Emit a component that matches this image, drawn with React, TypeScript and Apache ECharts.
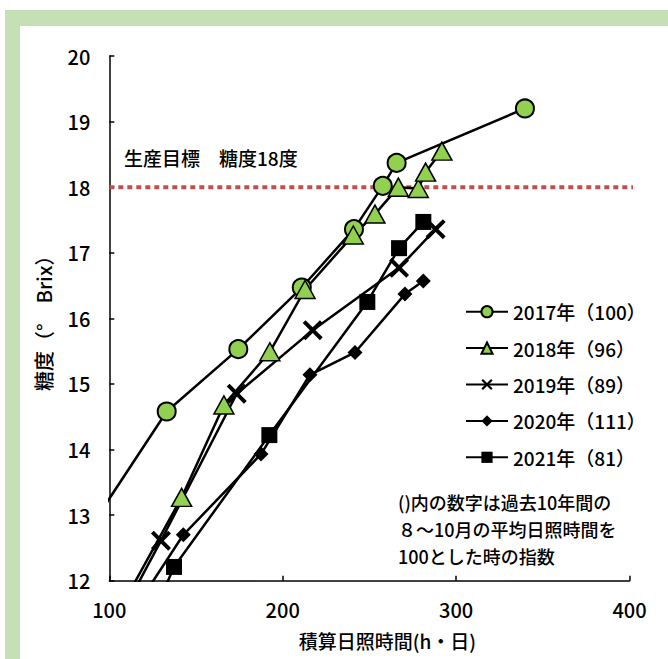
import React, { useEffect, useRef } from "react";
import * as echarts from "echarts";

const FONT = '"Noto Sans CJK JP", "Noto Sans", sans-serif';
const FW = 500;

const legendNames = ["2017年（100）", "2018年（96）", "2019年（89）", "2020年（111）", "2021年（81）"];

// [積算日照時間, 糖度]
const data2017 = [[95, 13.05], [133.1, 14.58], [174.4, 15.53], [211, 16.47], [241.1, 17.36], [257.7, 18.02], [265.7, 18.37], [339.7, 19.2]];
const data2018 = [[110, 11.75], [141.7, 13.27], [166.1, 14.68], [192.6, 15.49], [212.9, 16.44], [240.7, 17.27], [253.2, 17.59], [266.7, 18.0], [278.2, 17.98], [282.4, 18.23], [291.8, 18.55]];
const data2019 = [[110, 11.63], [129.8, 12.61], [173.5, 14.85], [217.3, 15.82], [267.1, 16.77], [288.2, 17.36]];
const data2020 = [[115, 11.58], [142.7, 12.7], [187.5, 13.93], [215.7, 15.14], [241.7, 15.48], [270.5, 16.37], [281.1, 16.57]];
const data2021 = [[125, 11.46], [137.3, 12.21], [192.3, 14.22], [248.8, 16.25], [267.1, 17.07], [281.1, 17.47]];

const targetValue = 18;
const targetX = [100, 422];
const targetLabel = "生産目標　糖度18度";
const noteLines = ["()内の数字は過去10年間の", "８～10月の平均日照時間を", "100とした時の指数"];

const xTicks = { min: 100, max: 400, interval: 100 };
const yTicks = { min: 12, max: 20, interval: 1 };

const X_PATH = "path://M0,2.8L2.8,0L10,7.2L17.2,0L20,2.8L12.8,10L20,17.2L17.2,20L10,12.8L2.8,20L0,17.2L7.2,10Z";

export default function App() {
  const ref = useRef<HTMLDivElement>(null);
  useEffect(() => {
    const chart = echarts.init(ref.current!, null, { renderer: "svg" });
    const lineStyle = { color: "#000", width: 2.5 };
    const mk = (name: string, data: number[][], symbol: string, size: number | number[], itemStyle: any) => ({
      name,
      type: "line",
      data,
      symbol,
      symbolSize: size,
      showAllSymbol: true,
      clip: true,
      lineStyle,
      itemStyle,
      z: 3,
    });
    chart.setOption({
      animation: false,
      textStyle: { fontFamily: FONT, color: "#000", fontWeight: FW },
      grid: { left: 109.3, top: 56, right: 38.5, bottom: 78.3, containLabel: false },
      xAxis: {
        type: "value",
        min: xTicks.min,
        max: xTicks.max,
        interval: xTicks.interval,
        name: "積算日照時間(h・日)",
        nameLocation: "middle",
        nameGap: 50,
        nameTextStyle: { fontSize: 19, color: "#000", fontFamily: FONT, fontWeight: FW, padding: [0, 0, 0, 36] },
        axisLine: { lineStyle: { color: "#000", width: 1.5 } },
        axisTick: { inside: true, length: 5, lineStyle: { color: "#000", width: 1.5 } },
        axisLabel: { fontSize: 20, color: "#000", margin: 19, fontFamily: FONT, fontWeight: FW },
        splitLine: { show: false },
      },
      yAxis: {
        type: "value",
        min: yTicks.min,
        max: yTicks.max,
        interval: yTicks.interval,
        name: "糖度（°　Brix）",
        nameLocation: "middle",
        nameRotate: 90,
        nameGap: 56,
        nameTextStyle: { fontSize: 20, color: "#000", fontFamily: FONT, fontWeight: FW },
        axisLine: { show: true, lineStyle: { color: "#000", width: 1.5 } },
        axisTick: { show: true, inside: true, length: 5, lineStyle: { color: "#000", width: 1.5 } },
        axisLabel: { fontSize: 20, color: "#000", margin: 19, fontFamily: FONT, fontWeight: FW },
        splitLine: { show: false },
      },
      legend: {
        data: legendNames,
        orient: "vertical",
        left: 460,
        top: 296.7,
        itemWidth: 42,
        itemHeight: 14,
        itemGap: 16.4,
        textStyle: { fontSize: 19, color: "#000", fontFamily: FONT, fontWeight: FW, lineHeight: 20 },
      },
      graphic: [
        {
          type: "text",
          left: 124,
          top: 148,
          style: { text: targetLabel, fontSize: 19, fill: "#000", fontFamily: FONT, fontWeight: FW },
        },
        {
          type: "text",
          left: 398,
          top: 488.5,
          style: { text: noteLines.join("\n"), fontSize: 18, lineHeight: 27, fill: "#000", fontFamily: FONT, fontWeight: FW },
        },
      ],
      series: [
        {
          name: "target",
          type: "line",
          data: targetX.map((x) => [x, targetValue]),
          symbol: "none",
          clip: false,
          silent: true,
          lineStyle: { color: "#c0504d", width: 4, type: [5, 4], cap: "butt" },
          z: 1,
        },
        mk(legendNames[0], data2017, "circle", 18, { color: "#92d050", borderColor: "#000", borderWidth: 2 }),
        mk(legendNames[1], data2018, "triangle", [20, 18], { color: "#92d050", borderColor: "#000", borderWidth: 1.5 }),
        mk(legendNames[2], data2019, X_PATH, 20, { color: "#000", borderWidth: 0 }),
        mk(legendNames[3], data2020, "diamond", [15, 15], { color: "#000", borderWidth: 0 }),
        mk(legendNames[4], data2021, "rect", 16, { color: "#000", borderWidth: 0 }),
      ],
    });
    return () => chart.dispose();
  }, []);
  return (
    <div style={{ position: "fixed", left: 0, top: 0, width: 668, height: 659, background: "#fff", overflow: "hidden" }}>
      <div style={{ position: "absolute", left: 5, top: 10, right: 0, bottom: 0, background: "#c5e0b4" }} />
      <div style={{ position: "absolute", left: 20, top: 26, right: 0, bottom: 0, background: "#fff" }} />
      <div ref={ref} style={{ position: "absolute", left: 0, top: 0, width: 668, height: 659 }} />
    </div>
  );
}
